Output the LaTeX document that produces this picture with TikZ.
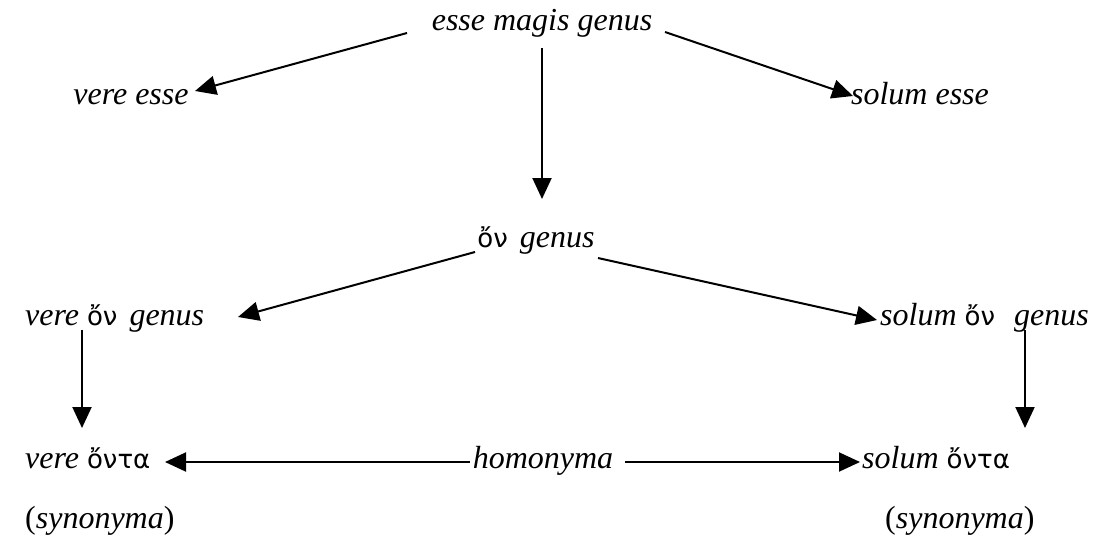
\documentclass[tikz,border=0pt]{standalone}
\usepackage{fontspec}
\setmainfont{Liberation Serif}
\newfontfamily\grk{DejaVu Sans}
\usetikzlibrary{arrows.meta,calc}
\newcommand{\gk}[1]{{\grk\fontsize{26}{32}\selectfont #1}}
\begin{document}
\begin{tikzpicture}[x=1pt,y=-1pt,
  lbl/.style={inner sep=0pt,font=\fontsize{32}{38}\selectfont},
  arr/.style={line width=2pt,-{Triangle[length=21pt,width=19pt]}}]
\useasboundingbox[fill=white] (0,0) rectangle (1111,552);
\node[lbl,anchor=base] (emg) at (542,30) {\textit{esse magis genus}};
\node[lbl,anchor=base] (ve) at (131,104) {\textit{vere esse}};
\node[lbl,anchor=base] (se) at (920,104) {\textit{solum esse}};
\node[lbl,anchor=base] (og) at (536,247) {\gk{ὄν}\hspace{12pt}\textit{genus}};
\node[lbl,anchor=base west] (vog) at (25,325) {\textit{vere} \gk{ὄν}\hspace{12pt}\textit{genus}};
\node[lbl,anchor=base west] (sog) at (880,325) {\textit{solum} \gk{ὄν}\hspace{19pt}\textit{genus}};
\node[lbl,anchor=base west] (vo) at (25,468) {\textit{vere} \gk{ὄντα}};
\node[lbl,anchor=base] (hom) at (543,468) {\textit{homonyma}};
\node[lbl,anchor=base west] (so) at (862,468) {\textit{solum} \gk{ὄντα}};
\node[lbl,anchor=base west] (syn1) at (25,528) {(\textit{synonyma})};
\node[lbl,anchor=base west] (syn2) at (885,528) {(\textit{synonyma})};
\draw[arr] ($(emg.base)+(-135,3)$) -- ($(ve.base)+(64,-13)$);
\draw[arr] ($(emg.base)+(123,2)$) -- ($(se.base)+(-67,-8)$);
\draw[arr] ($(emg.base)+(0,18)$) -- ($(og.base)+(6,-48)$);
\draw[arr] ($(og.base)+(-61,5)$) -- ($(vog.base west)+(213,-8)$);
\draw[arr] ($(og.base)+(62,11)$) -- ($(sog.base west)+(-3,-5)$);
\draw[arr] ($(vog.base west)+(57,5)$) -- ($(vo.base west)+(57,-40)$);
\draw[arr] ($(sog.base west)+(145,5)$) -- ($(so.base west)+(163,-40)$);
\draw[arr] ($(hom.base)+(-73,-6)$) -- ($(vo.base west)+(140,-6)$);
\draw[arr] ($(hom.base)+(82,-6)$) -- ($(so.base west)+(-2,-6)$);
\end{tikzpicture}
\end{document}
